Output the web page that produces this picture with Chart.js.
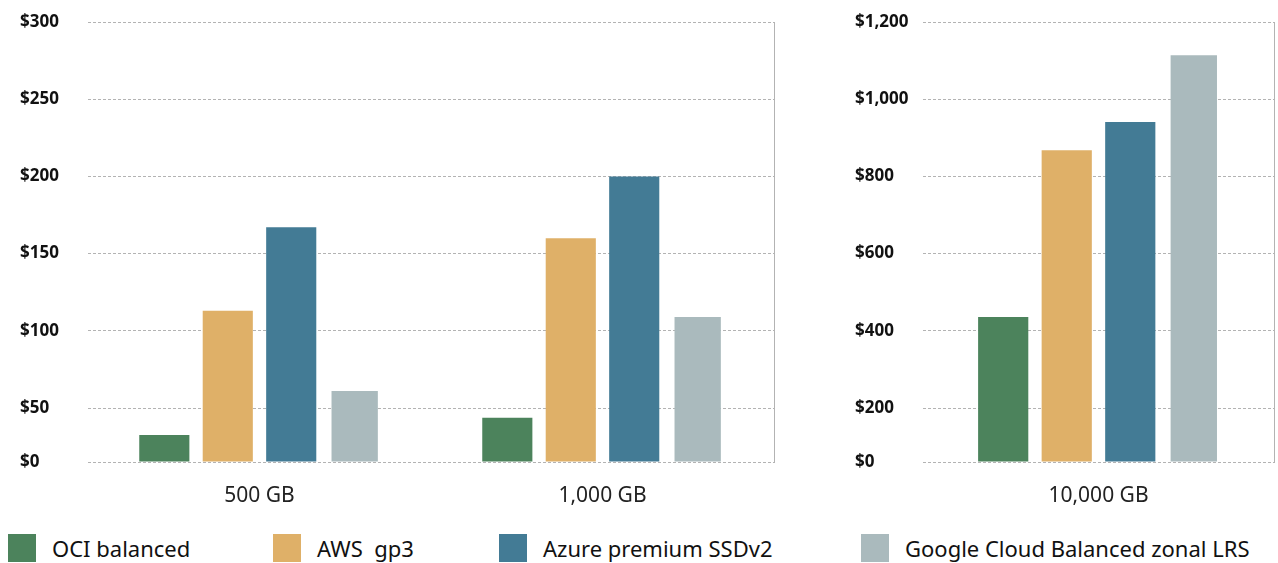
<!DOCTYPE html>
<html>
<head>
<meta charset="utf-8">
<script src="https://cdn.jsdelivr.net/npm/chart.js@4"></script>
<style>
  body { margin: 0; background: #fff; width: 1278px; height: 563px; overflow: hidden; position: relative; font-family: "Noto Sans", sans-serif; }
  #cajaIzq { position: absolute; left: 0; top: 0; width: 790px; height: 512px; }
  #cajaDer { position: absolute; left: 835px; top: 0; width: 443px; height: 512px; }
  .item { position: absolute; top: 534px; height: 28px; display: flex; align-items: center; font-size: 22px; color: #111; white-space: pre; }
  .cuadro { width: 28px; height: 28px; margin-right: 16px; }
</style>
</head>
<body>
<div id="cajaIzq"><canvas id="chartIzq"></canvas></div>
<div id="cajaDer"><canvas id="chartDer"></canvas></div>
<div id="leyenda"></div>

<script>
// ============================
// Datos
// ============================
const categoriasIzq = ["500 GB", "1,000 GB"];
const categoriasDer = ["10,000 GB"];

const series = ["OCI balanced", "AWS  gp3", "Azure premium SSDv2", "Google Cloud Balanced zonal LRS"];
const colores = ["#4c835c", "#dfb068", "#437b95", "#aababd"];

const ociIzq = [25, 41];
const awsIzq = [113, 160];
const azureIzq = [167, 200];
const gcpIzq = [61, 109];

const ociDer = [436];
const awsDer = [868];
const azureDer = [941];
const gcpDer = [1114];

const ticksIzq = [0, 50, 100, 150, 200, 250, 300];
const ticksDer = [0, 200, 400, 600, 800, 1000, 1200];

// ============================
// Escala con el primer tramo comprimido
// ============================
class EscalaCortada extends Chart.LinearScale {
  getPixelForValue(value) {
    if (value === null || value === undefined) return NaN;
    const corte = this.options.corte;
    const h = this.bottom - this.top;
    const hBajo = h * this.options.fraccionCorte;
    if (value <= corte) return this.bottom - (value - this.min) / (corte - this.min) * hBajo;
    return this.bottom - hBajo - (value - corte) / (this.max - corte) * (h - hBajo);
  }
  getValueForPixel(pixel) {
    const corte = this.options.corte;
    const h = this.bottom - this.top;
    const hBajo = h * this.options.fraccionCorte;
    const d = this.bottom - pixel;
    if (d <= hBajo) return this.min + d / hBajo * (corte - this.min);
    return corte + (d - hBajo) / (h - hBajo) * (this.max - corte);
  }
}
EscalaCortada.id = "cortada";
EscalaCortada.defaults = Chart.LinearScale.defaults;
Chart.register(EscalaCortada);

const gris = "#b3b3b3";
const fuenteTicks = { family: "Noto Sans", size: 17, weight: "bold" };

function datasets(oci, aws, azure, gcp) {
  return [oci, aws, azure, gcp].map((d, i) => ({
    label: series[i],
    data: d,
    backgroundColor: colores[i],
    barPercentage: i === 3 ? 0.73 : 0.79
  }));
}

function opciones(ticks, corte, catPct, padDer) {
  return {
    responsive: true,
    maintainAspectRatio: false,
    animation: false,
    layout: { padding: { left: 20, right: padDer, top: 22, bottom: 0 } },
    plugins: { legend: { display: false }, tooltip: { enabled: false } },
    datasets: { bar: { categoryPercentage: catPct } },
    scales: {
      x: {
        grid: { display: false },
        border: { display: false },
        ticks: { color: "#222", font: { family: "Noto Sans", size: 21 }, padding: 13 },
        afterFit: s => { s.height = 50; }
      },
      y: {
        type: "cortada",
        corte: corte,
        fraccionCorte: 54 / 440,
        min: ticks[0],
        max: ticks[ticks.length - 1],
        afterBuildTicks: s => { s.ticks = ticks.map(v => ({ value: v })); },
        grid: { color: gris, lineWidth: 1, drawTicks: false },
        border: { display: false, dash: [3, 2] },
        ticks: {
          color: "#111",
          font: fuenteTicks,
          crossAlign: "far",
          padding: 20,
          callback: v => "$" + v.toLocaleString("en-US")
        },
        afterFit: s => { s.width = 68; s.paddingTop = 0; s.paddingBottom = 0; }
      },
      borde: {
        position: "right",
        grid: { display: false },
        ticks: { display: false },
        border: { display: true, color: gris, width: 1, dash: [3, 2] },
        afterFit: s => { s.width = 0; }
      }
    }
  };
}

// ============================
// Gráfico 500 GB / 1,000 GB
// ============================
new Chart(document.getElementById("chartIzq"), {
  type: "bar",
  data: { labels: categoriasIzq, datasets: datasets(ociIzq, awsIzq, azureIzq, gcpIzq) },
  options: opciones(ticksIzq, 50, 0.74, 16)
});

// ============================
// Gráfico 10,000 GB
// ============================
new Chart(document.getElementById("chartDer"), {
  type: "bar",
  data: { labels: categoriasDer, datasets: datasets(ociDer, awsDer, azureDer, gcpDer) },
  options: opciones(ticksDer, 200, 0.724, 4)
});

// ============================
// Leyenda
// ============================
const posLeyenda = [8, 273, 499, 861];
const leyenda = document.getElementById("leyenda");
series.forEach((nombre, i) => {
  leyenda.innerHTML += `<div class="item" style="left:${posLeyenda[i]}px"><span class="cuadro" style="background:${colores[i]}"></span>${nombre}</div>`;
});
</script>
</body>
</html>
